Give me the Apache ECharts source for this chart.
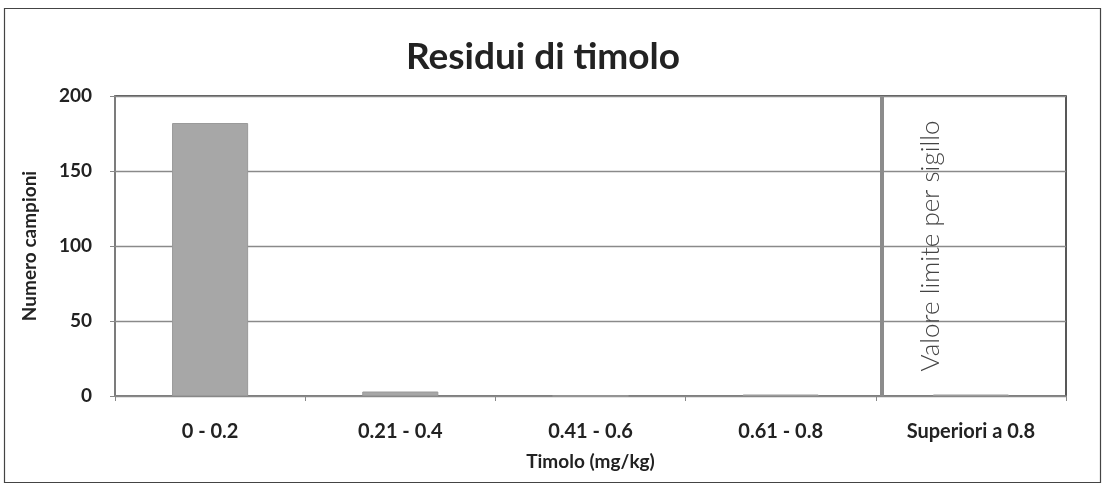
<!DOCTYPE html>
<html><head><meta charset="utf-8">
<script src="https://cdn.jsdelivr.net/npm/echarts@6/dist/echarts.min.js"></script>
<style>html,body{margin:0;padding:0;background:#fff}#c{width:1106px;height:490px}</style>
</head><body><div id="c"></div>
<script>
const categories = ["0 - 0.2", "0.21 - 0.4", "0.41 - 0.6", "0.61 - 0.8", "Superiori a 0.8"];
const campioni = [182, 3, 0, 1, 1];
const yTicks = { min: 0, max: 200, interval: 50 };
const limitPosition = 4.03; // in category units, just after 0.8
const limitLabel = "Valore limite per sigillo";

const chart = echarts.init(document.getElementById('c'));
const FONT = 'Lato';
chart.setOption({
  backgroundColor: '#fff',
  animation: false,
  title: {
    text: 'Residui di timolo', left: 538, top: 34, textAlign: 'center',
    textStyle: { fontFamily: FONT, fontWeight: 'bold', fontSize: 37, color: '#222' }
  },
  graphic: [{
    type: 'rect', shape: { x: 4.5, y: 8.5, width: 1096, height: 474 },
    style: { fill: 'none', stroke: '#444', lineWidth: 1.2 }, silent: true, z: -1
  }],
  grid: { left: 115, right: 40, top: 96, bottom: 94, show: true, borderColor: '#222', borderWidth: 1.5 },
  xAxis: [{
    type: 'category', data: categories,
    axisLine: { lineStyle: { color: '#888', width: 1.5 } },
    axisTick: { show: true, length: 5, lineStyle: { color: '#888' } },
    axisLabel: { fontFamily: FONT, fontWeight: 'bold', fontSize: 20, color: '#222', margin: 26 },
    name: 'Timolo (mg/kg)', nameLocation: 'middle', nameGap: 56,
    nameTextStyle: { fontFamily: FONT, fontWeight: 'bold', fontSize: 19, color: '#222' }
  }, {
    type: 'value', min: 0, max: categories.length, show: false
  }],
  yAxis: {
    type: 'value', min: yTicks.min, max: yTicks.max, interval: yTicks.interval,
    axisLine: { show: true, lineStyle: { color: '#888', width: 1.5 } },
    axisTick: { show: true, length: 5, lineStyle: { color: '#888' } },
    splitLine: { lineStyle: { color: '#8a8a8a', width: 1.3 } },
    axisLabel: { fontFamily: FONT, fontWeight: 'bold', fontSize: 19, color: '#222', margin: 23 },
    name: 'Numero campioni', nameLocation: 'middle', nameGap: 76,
    nameTextStyle: { fontFamily: FONT, fontWeight: 'bold', fontSize: 19, color: '#222' }
  },
  series: [{
    type: 'bar', data: campioni, barWidth: '40%',
    itemStyle: { color: '#a7a7a7', borderColor: '#9a9a9a', borderWidth: 1 }
  }, {
    type: 'line', xAxisIndex: 1, data: [], silent: true,
    markLine: {
      silent: true, symbol: 'none',
      lineStyle: { color: '#8c8c8c', width: 4, type: 'solid' },
      label: {
        show: true, formatter: limitLabel, position: 'insideMiddleBottom', distance: 36,
        fontFamily: FONT, fontWeight: 300, fontSize: 26, color: '#444'
      },
      data: [{ xAxis: limitPosition }]
    }
  }]
});
</script></body></html>
